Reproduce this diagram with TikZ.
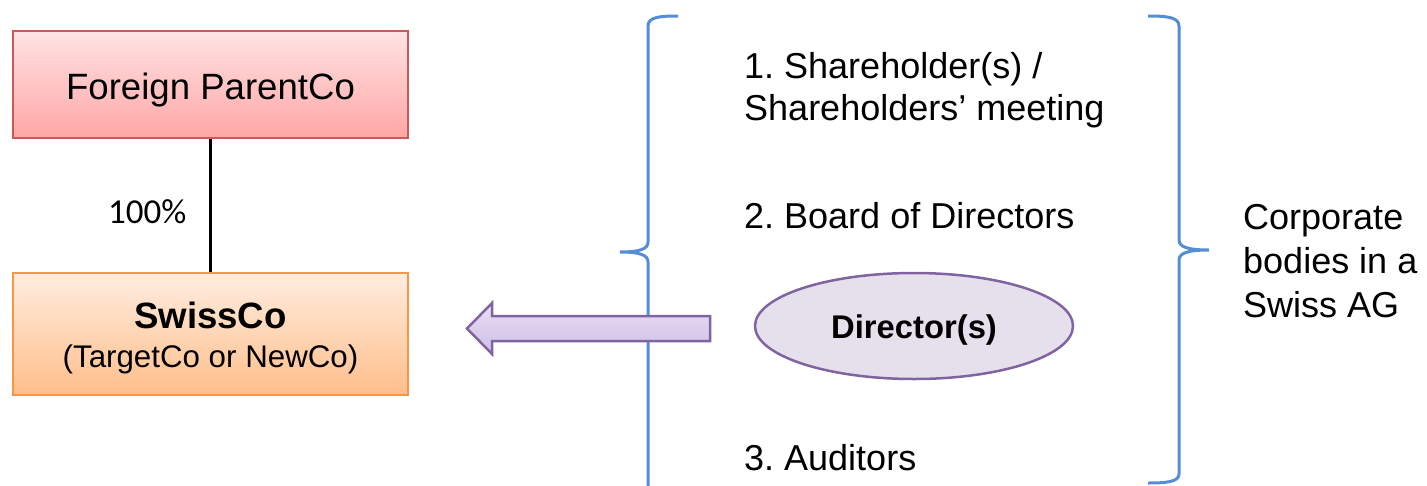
\documentclass[tikz,border=0pt]{standalone}
\usepackage{fontspec}
\setmainfont{Liberation Sans}
\newfontfamily\calibri{Carlito}
\usetikzlibrary{shapes.geometric}
\frenchspacing
\definecolor{redborder}{HTML}{C85A57}
\definecolor{redtop}{HTML}{FFE3E3}
\definecolor{redbot}{HTML}{FFA6A6}
\definecolor{orborder}{HTML}{F79646}
\definecolor{ortop}{HTML}{FFEDE0}
\definecolor{orbot}{HTML}{FFBE8A}
\definecolor{purborder}{HTML}{8064A2}
\definecolor{purtop}{HTML}{E8DFF4}
\definecolor{purbot}{HTML}{CFBEE6}
\definecolor{purfill}{HTML}{E6E0EC}
\definecolor{braceblue}{HTML}{558ED5}
\begin{document}
\frenchspacing
\begin{tikzpicture}[x=1pt,y=-1pt,
  bigtxt/.style={font=\fontsize{36}{44}\selectfont, inner sep=0pt},
  parentbox/.style={draw=redborder, line width=2pt, top color=redtop, bottom color=redbot, minimum width=395pt, minimum height=107pt, inner sep=0pt, text height=29pt, text depth=0pt, font=\fontsize{36.6}{44}\selectfont},
  swissbox/.style={draw=orborder, line width=2pt, top color=ortop, bottom color=orbot, minimum width=395pt, minimum height=122pt, inner sep=0pt},
  dirnode/.style={ellipse, draw=purborder, line width=2.5pt, fill=purfill, minimum width=318pt, minimum height=106pt, inner sep=0pt, text height=24pt, text depth=0pt, font=\bfseries\fontsize{32.8}{38}\selectfont},
  arrowshape/.style={draw=purborder, line width=2.5pt, top color=purtop, bottom color=purbot, line join=miter},
  brace/.style={draw=braceblue, line width=3pt},
  conn/.style={draw=black, line width=3pt}]
\useasboundingbox (0,0) rectangle (1427,485);

% braces (behind the arrow)
\draw[brace] (678,16) .. controls (660,16) and (648,17) .. (648,26) -- (648,242)
  .. controls (648,249) and (640,252) .. (620,252)
  .. controls (640,252) and (648,255) .. (648,262) -- (648,486);
\draw[brace] (1148,16) .. controls (1166,16) and (1179,17) .. (1179,26) -- (1179,240)
  .. controls (1179,247) and (1188,250) .. (1209,250)
  .. controls (1188,250) and (1179,253) .. (1179,260) -- (1179,474)
  .. controls (1179,482) and (1166,483) .. (1148,483);

% left side boxes
\node[parentbox] (parent) at (210.5,84.5) {Foreign ParentCo};
\node[swissbox] (swiss) at (210.5,334) {};
\node[anchor=base, bigtxt, font=\bfseries\fontsize{36.6}{44}\selectfont] (swname) at (210.5,328) {SwissCo};
\node[anchor=base, inner sep=0pt, font=\fontsize{31.3}{37}\selectfont] (swsub) at (210.5,367) {(TargetCo or NewCo)};
\draw[conn] (parent.south) -- (swiss.north);
\node[anchor=base west, inner sep=0pt, font=\calibri\fontsize{35}{42}\selectfont] (pct) at (108,223) {100\%};

% block arrow
\draw[arrowshape] (710,316) -- (492,316) -- (492,303) -- (467,328.5) -- (492,354) -- (492,341) -- (710,341) -- cycle;

% director ellipse
\node[dirnode] (dir) at (914,326) {Director(s)};

% corporate bodies list
\node[bigtxt, anchor=base west] (sh1) at (744,78) {1. Shareholder(s) /};
\node[bigtxt, anchor=base west] (sh2) at (744,120) {Shareholders’ meeting};
\node[bigtxt, anchor=base west] (bod) at (744,228) {2. Board of Directors};
\node[bigtxt, anchor=base west] (aud) at (744,470) {3. Auditors};

% right label
\node[bigtxt, anchor=base west] (c1) at (1243,229) {Corporate};
\node[bigtxt, anchor=base west] (c2) at (1243,273) {bodies in a};
\node[bigtxt, anchor=base west] (c3) at (1243,317) {Swiss AG};
\end{tikzpicture}
\end{document}
